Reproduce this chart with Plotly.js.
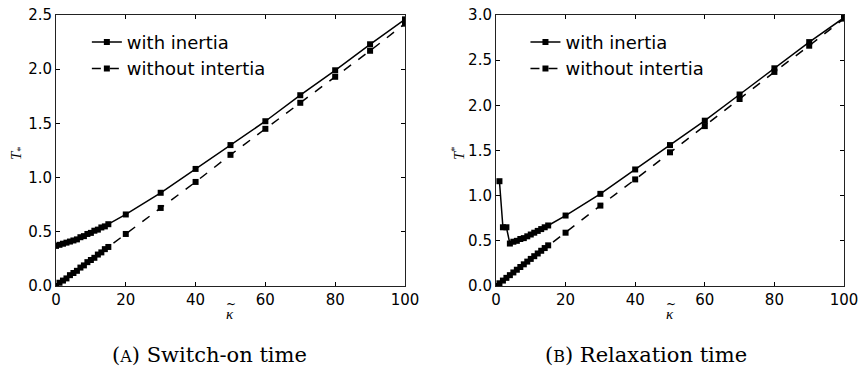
<!DOCTYPE html>
<html>
<head>
<meta charset="utf-8">
<script src="https://cdn.plot.ly/plotly-3.0.1.min.js"></script>
<style>html,body{margin:0;padding:0;background:#fff;}#chart{width:860px;height:366px;}</style>
</head>
<body>
<div id="chart"></div>
<script>
// ---- data ----
const kappaA = [0,1,2,3,4,5,6,7,8,9,10,11,12,13,14,15,20,30,40,50,60,70,80,90,100];
const switchWith = [0.37,0.38,0.39,0.40,0.41,0.42,0.43,0.45,0.46,0.48,0.49,0.51,0.52,0.54,0.55,0.57,0.66,0.86,1.08,1.30,1.52,1.76,1.99,2.23,2.46];
const switchWithout = [0.00,0.03,0.05,0.07,0.10,0.12,0.14,0.17,0.19,0.22,0.24,0.26,0.29,0.31,0.34,0.36,0.48,0.72,0.96,1.21,1.45,1.69,1.93,2.17,2.42];

const kappaBWith = [1,2,3,4,5,6,7,8,9,10,11,12,13,14,15,20,30,40,50,60,70,80,90,100];
const relaxWith = [1.16,0.65,0.65,0.47,0.49,0.50,0.52,0.53,0.55,0.57,0.59,0.61,0.63,0.65,0.67,0.78,1.02,1.29,1.56,1.83,2.12,2.41,2.70,2.97];
const kappaBWithout = [0,1,2,3,4,5,6,7,8,9,10,11,12,13,14,15,20,30,40,50,60,70,80,90,100];
const relaxWithout = [0.00,0.03,0.06,0.09,0.12,0.15,0.18,0.21,0.24,0.27,0.30,0.33,0.36,0.39,0.42,0.45,0.59,0.89,1.18,1.48,1.77,2.07,2.37,2.66,2.96];

const xTicks = [0,20,40,60,80,100];
const yTicksA = [0,0.5,1.0,1.5,2.0,2.5];
const yTicksB = [0,0.5,1.0,1.5,2.0,2.5,3.0];
const seriesNames = ["with inertia","without intertia"];
const captions = ["(<span style='font-size:16px'>A</span>) Switch-on time","(<span style='font-size:16px'>B</span>) Relaxation time"];

const mk = {symbol:"square", size:6, color:"#000"};
const traces = [
  {x:kappaA, y:switchWith, mode:"lines+markers", name:seriesNames[0], line:{color:"#000",width:1.5}, marker:mk, xaxis:"x", yaxis:"y", legend:"legend"},
  {x:kappaA, y:switchWithout, mode:"lines+markers", name:seriesNames[1], line:{color:"#000",width:1.5,dash:"dash"}, marker:mk, xaxis:"x", yaxis:"y", legend:"legend"},
  {x:kappaBWith, y:relaxWith, mode:"lines+markers", name:seriesNames[0], line:{color:"#000",width:1.5}, marker:mk, xaxis:"x2", yaxis:"y2", legend:"legend2"},
  {x:kappaBWithout, y:relaxWithout, mode:"lines+markers", name:seriesNames[1], line:{color:"#000",width:1.5,dash:"dash"}, marker:mk, xaxis:"x2", yaxis:"y2", legend:"legend2"}
];

const tickFont = {family:"DejaVu Sans", size:15, color:"#000"};
function xax(dom, anchor){
  return {domain:dom, anchor:anchor, range:[0,100], tickvals:xTicks, ticktext:xTicks.map(String),
    ticks:"inside", ticklen:4, tickcolor:"#000", mirror:"ticks", showline:true, linecolor:"#222", linewidth:1,
    showgrid:false, zeroline:false, tickfont:tickFont, fixedrange:true};
}
function yax(rng, tv, anchor){
  return {domain:[0.2186,0.959], anchor:anchor, range:rng, tickvals:tv, ticktext:tv.map(v=>v.toFixed(1)),
    ticks:"inside", ticklen:4, tickcolor:"#000", mirror:"ticks", showline:true, linecolor:"#222", linewidth:1,
    showgrid:false, zeroline:false, tickfont:tickFont, fixedrange:true};
}
const legFont = {family:"DejaVu Sans", size:18, color:"#000"};
const mathFont = {family:"Liberation Serif", size:15, color:"#000"};
const tildeFont = {family:"DejaVu Serif", size:12, color:"#000"};
function ann(text, px, py, font, extra){
  return Object.assign({text:text, xref:"paper", yref:"paper", x:px/860, y:(366-py)/366, xanchor:"center", yanchor:"middle", showarrow:false, font:font}, extra||{});
}
const layout = {
  width:860, height:366, margin:{l:0,r:0,t:0,b:0}, paper_bgcolor:"#fff", plot_bgcolor:"#fff",
  xaxis: xax([0.0651,0.4709],"y"),
  yaxis: yax([0,2.5], yTicksA, "x"),
  xaxis2: xax([0.5767,0.9814],"y2"),
  yaxis2: yax([0,3], yTicksB, "x2"),
  legend: {x:0.101, y:0.935, xanchor:"left", yanchor:"top", font:legFont, bgcolor:"rgba(0,0,0,0)", tracegroupgap:0, itemwidth:30},
  legend2: {x:0.611, y:0.935, xanchor:"left", yanchor:"top", font:legFont, bgcolor:"rgba(0,0,0,0)", tracegroupgap:0, itemwidth:30},
  annotations: [
    ann("<i>T</i><sub>*</sub>", 17, 153, mathFont, {textangle:-90}),
    ann("<i>T</i><sup>*</sup>", 458, 153, mathFont, {textangle:-90}),
    ann("<i>κ</i>", 230, 314, mathFont),
    ann("~", 231, 304, tildeFont),
    ann("<i>κ</i>", 670, 314, mathFont),
    ann("~", 671, 304, tildeFont),
    ann(captions[0], 209, 355, {family:"DejaVu Serif", size:21, color:"#000"}),
    ann(captions[1], 646, 355, {family:"DejaVu Serif", size:21, color:"#000"})
  ],
  showlegend:true
};
Plotly.newPlot("chart", traces, layout, {staticPlot:true, displayModeBar:false});
</script>
</body>
</html>
